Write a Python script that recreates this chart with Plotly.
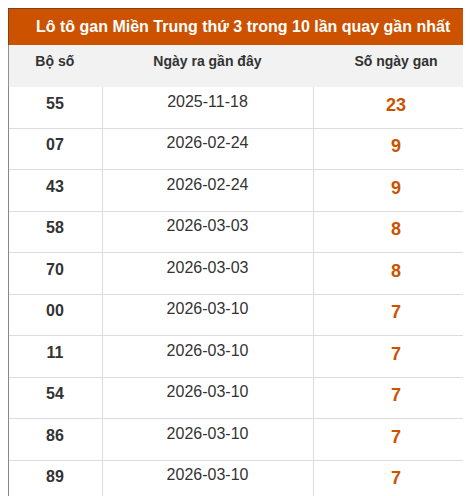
import plotly.graph_objects as go

title = "Lô tô gan Miền Trung thứ 3 trong 10 lần quay gần nhất"
headers = ["Bộ số", "Ngày ra gần đây", "Số ngày gan"]
bo_so = ["55", "07", "43", "58", "70", "00", "11", "54", "86", "89"]
ngay_ra = ["2025-11-18", "2026-02-24", "2026-02-24", "2026-03-03", "2026-03-03",
           "2026-03-10", "2026-03-10", "2026-03-10", "2026-03-10", "2026-03-10"]
so_ngay_gan = [23, 9, 9, 8, 8, 7, 7, 7, 7, 7]

W, H = 471, 496
TITLE_H = 37
ROW_H = 41.5
FONT = "Liberation Sans, Arial"

fig = go.Figure(go.Table(
    columnwidth=[94, 211, 166],
    header=dict(
        values=["<b>%s</b>" % h for h in headers],
        fill_color="#f2f2f2",
        line_color="#f2f2f2",
        align="center",
        height=ROW_H,
        font=dict(family=FONT, size=14, color="#333333"),
    ),
    cells=dict(
        values=[["<b>%s</b>" % b for b in bo_so], ngay_ra, ["<b>%d</b>" % v for v in so_ngay_gan]],
        fill_color="white",
        line_color="#dddddd",
        align="center",
        height=ROW_H,
        font=dict(family=FONT, size=[16, 16, 18], color=["#333333", "#333333", "#cc5200"]),
    ),
    domain=dict(x=[0, 1], y=[0, 1 - TITLE_H / H]),
))

fig.add_shape(type="rect", xref="paper", yref="paper", x0=0, x1=1,
              y0=1 - TITLE_H / H, y1=1, fillcolor="#cc5200", line_width=0, layer="below")
fig.add_annotation(text="<b>%s</b>" % title, xref="paper", yref="paper", x=0.5,
                   y=1 - TITLE_H / H / 2, showarrow=False, yanchor="middle",
                   font=dict(family=FONT, size=16, color="white"))
fig.add_shape(type="rect", xref="paper", yref="paper", x0=0, x1=1, y0=0, y1=1,
              line=dict(color="#333333", width=1))

fig.update_layout(width=W, height=H, margin=dict(l=0, r=0, t=0, b=0),
                  paper_bgcolor="white")

fig.write_html("out.html")
